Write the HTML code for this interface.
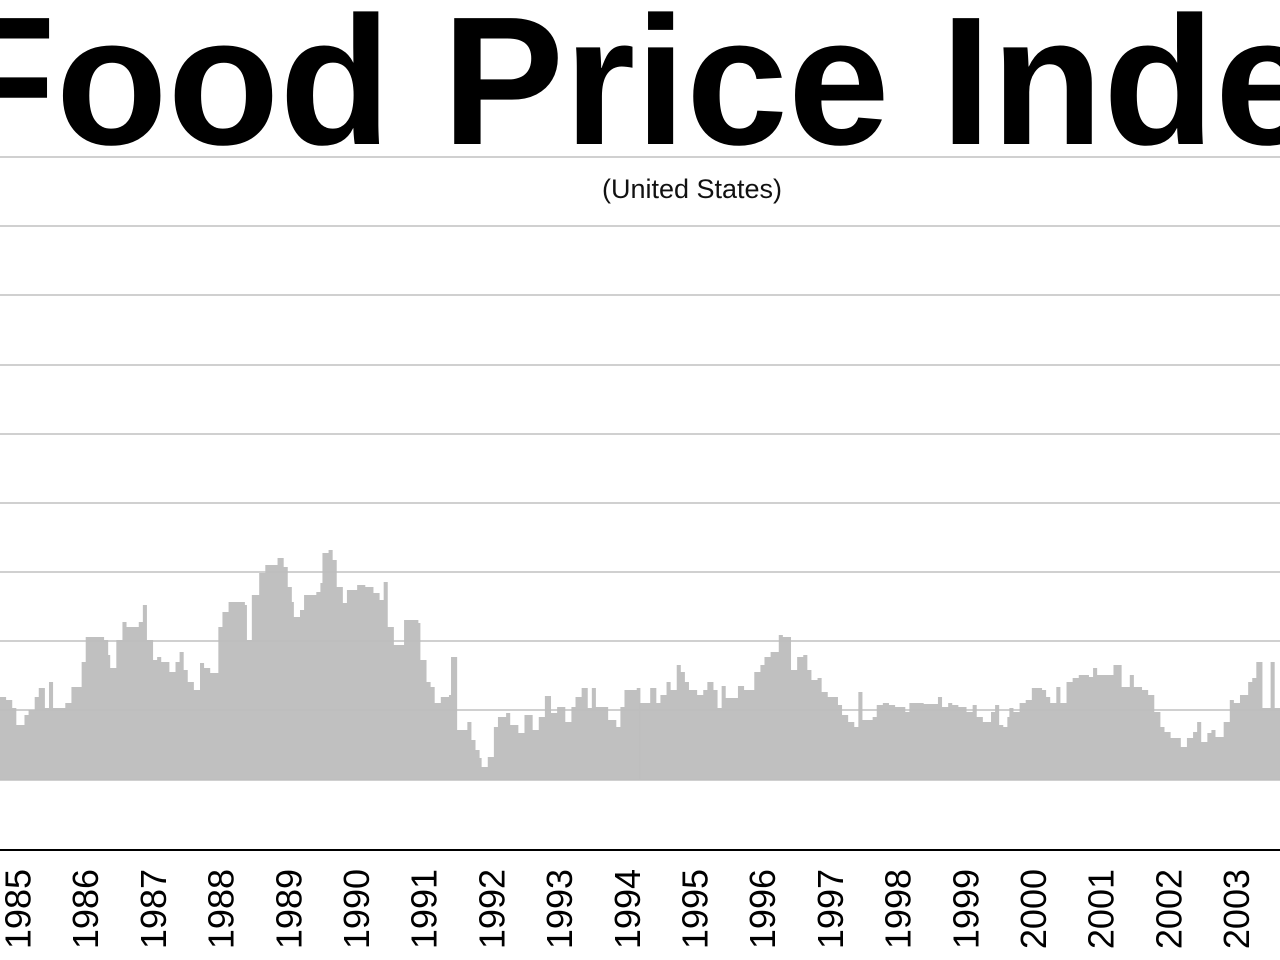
<!DOCTYPE html>
<html><head><meta charset="utf-8"><style>
html,body{margin:0;padding:0;background:#fff;width:1280px;height:960px;overflow:hidden;position:relative;font-family:"Liberation Sans",sans-serif}
.t{position:absolute;left:-56px;top:-12px;font-size:183px;line-height:185px;font-weight:bold;white-space:nowrap;color:#000}
.s{position:absolute;left:0;width:1384px;top:174px;text-align:center;font-size:27px;color:#111}
svg{position:absolute;left:0;top:0}
</style></head><body>
<svg width="1280" height="960" viewBox="0 0 1280 960">
<g stroke="#d0d0d0" stroke-width="2">
<line x1="0" x2="1280" y1="157" y2="157"/><line x1="0" x2="1280" y1="226" y2="226"/><line x1="0" x2="1280" y1="295" y2="295"/><line x1="0" x2="1280" y1="365" y2="365"/><line x1="0" x2="1280" y1="434" y2="434"/><line x1="0" x2="1280" y1="503" y2="503"/><line x1="0" x2="1280" y1="572" y2="572"/><line x1="0" x2="1280" y1="641" y2="641"/><line x1="0" x2="1280" y1="710" y2="710"/><line x1="0" x2="1280" y1="780" y2="780"/>
</g>
<g fill="#bdbdbd" fill-opacity="0.95">
<path transform="scale(0.40816,1)" d="M0,780 V697 H15 V700 H30 V708 H40 V725 H60 V715 H70 V710 H85 V697 H95 V688 H110 V708 H120 V682 H130 V708 H160 V703 H175 V687 H200 V662 H210 V637 H255 V640 H265 V655 H270 V668 H285 V640 H300 V622 H310 V627 H340 V622 H350 V605 H360 V640 H375 V660 H385 V657 H395 V662 H415 V672 H430 V662 H440 V652 H450 V670 H460 V682 H475 V690 H490 V663 H500 V668 H515 V673 H535 V627 H545 V612 H560 V602 H600 V605 H605 V640 H617 V595 H635 V573 H650 V565 H680 V558 H695 V567 H705 V587 H715 V602 H720 V617 H735 V610 H745 V595 H775 V592 H785 V583 H790 V553 H805 V550 H815 V560 H825 V587 H840 V603 H850 V590 H875 V585 H895 V587 H915 V593 H930 V600 H940 V582 H950 V627 H965 V645 H990 V620 H1025 V623 H1030 V660 H1045 V682 H1055 V687 H1065 V703 H1080 V697 H1100 V695 H1105 V657 H1120 V730 H1145 V722 H1155 V740 H1165 V750 H1175 V758 H1180 V767 H1195 V757 H1210 V727 H1220 V717 H1240 V713 H1250 V725 H1270 V733 H1285 V715 H1305 V730 H1320 V717 H1335 V696 H1350 V713 H1365 V707 H1385 V722 H1400 V707 H1410 V697 H1425 V688 H1440 V708 H1450 V688 H1460 V707 H1490 V720 H1510 V727 H1520 V707 H1530 V690 H1560 V688 H1569 V780 Z"/>
<path transform="translate(640,0) scale(0.40816,1)" d="M-1,780 V703 H25 V688 H40 V703 H50 V695 H65 V682 H75 V690 H90 V665 H100 V672 H110 V682 H120 V690 H140 V695 H155 V690 H165 V682 H180 V690 H190 V708 H200 V686 H210 V698 H240 V686 H255 V690 H280 V672 H295 V665 H305 V657 H320 V652 H340 V635 H350 V637 H370 V670 H385 V657 H400 V655 H410 V670 H420 V680 H435 V678 H445 V692 H460 V697 H485 V705 H495 V715 H510 V722 H525 V727 H535 V692 H545 V720 H570 V717 H580 V705 H595 V703 H610 V705 H625 V707 H650 V712 H660 V703 H695 V704 H730 V697 H740 V707 H755 V703 H765 V705 H780 V707 H800 V712 H815 V705 H825 V717 H840 V722 H860 V712 H870 V705 H880 V725 H890 V727 H900 V717 H905 V708 H915 V712 H930 V703 H945 V700 H960 V688 H985 V690 H995 V697 H1005 V703 H1020 V687 H1030 V703 H1045 V682 H1060 V678 H1075 V675 H1100 V677 H1110 V668 H1120 V675 H1160 V665 H1180 V687 H1200 V675 H1210 V687 H1230 V690 H1245 V695 H1260 V712 H1275 V727 H1285 V732 H1300 V738 H1325 V747 H1340 V738 H1355 V732 H1365 V722 H1375 V742 H1390 V733 H1400 V730 H1410 V737 H1430 V722 H1445 V700 H1455 V703 H1470 V695 H1490 V682 H1500 V678 H1510 V662 H1525 V708 H1545 V662 H1555 V708 H1570 V780 Z"/>
</g>
<line x1="0" x2="1280" y1="850" y2="850" stroke="#000" stroke-width="2"/>
<g font-family="Liberation Sans, sans-serif" font-size="36" fill="#000" text-anchor="end">
<text transform="translate(30.5,869) rotate(-90)">1985</text>
<text transform="translate(98.2,869) rotate(-90)">1986</text>
<text transform="translate(165.9,869) rotate(-90)">1987</text>
<text transform="translate(233.6,869) rotate(-90)">1988</text>
<text transform="translate(301.3,869) rotate(-90)">1989</text>
<text transform="translate(369,869) rotate(-90)">1990</text>
<text transform="translate(436.7,869) rotate(-90)">1991</text>
<text transform="translate(504.4,869) rotate(-90)">1992</text>
<text transform="translate(572.1,869) rotate(-90)">1993</text>
<text transform="translate(639.8,869) rotate(-90)">1994</text>
<text transform="translate(707.5,869) rotate(-90)">1995</text>
<text transform="translate(775.2,869) rotate(-90)">1996</text>
<text transform="translate(842.9,869) rotate(-90)">1997</text>
<text transform="translate(910.6,869) rotate(-90)">1998</text>
<text transform="translate(978.3,869) rotate(-90)">1999</text>
<text transform="translate(1046,869) rotate(-90)">2000</text>
<text transform="translate(1113.7,869) rotate(-90)">2001</text>
<text transform="translate(1181.4,869) rotate(-90)">2002</text>
<text transform="translate(1249.1,869) rotate(-90)">2003</text>
</g>
</svg>
<div class="t">Food Price Index</div>
<div class="s">(United States)</div>
</body></html>
